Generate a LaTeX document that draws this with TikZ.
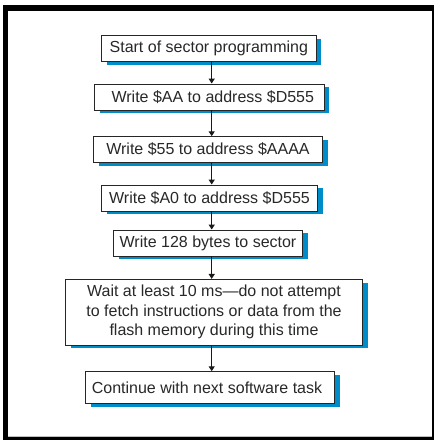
\documentclass[tikz,border=0pt]{standalone}
\usepackage{fontspec}
\setmainfont{Liberation Sans}
\usetikzlibrary{shadows,arrows.meta}
\definecolor{shadowblue}{RGB}{0,140,200}
\definecolor{textgray}{RGB}{40,40,40}
\tikzset{
  flowbox/.style={draw=black!85, line width=0.9pt, fill=white, inner sep=0pt,
    font=\fontsize{16}{19.5}\selectfont, text=textgray, align=center,
    drop shadow={shadow xshift=5.5pt, shadow yshift=-3.3pt, fill=shadowblue, opacity=1}},
  flowarrow/.style={line width=1.5pt, draw=black!90, -{Triangle[length=5pt,width=6pt]}}
}
\begin{document}
\begin{tikzpicture}[x=1pt,y=-1pt]
\useasboundingbox (0,0) rectangle (434,440);
% frame
\fill[black] (3,5) rectangle (434,440);
\fill[white] (8,11) rectangle (431.5,437);
\draw[black!25, line width=0.6pt] (8,436.7) -- (431.5,436.7);
% nodes
\node[flowbox, minimum width=214.3pt, minimum height=26pt] (b1) at (208.8,48.7) {Start of sector programming};
\node[flowbox, minimum width=229.3pt, minimum height=26pt] (b2) at (209.3,97) {\hspace*{7pt}Write \$AA to address \$D555};
\node[flowbox, minimum width=229.4pt, minimum height=25.6pt] (b3) at (208,149.5) {Write \$55 to address \$AAAA};
\node[flowbox, minimum width=215.6pt, minimum height=26pt] (b4) at (209.5,198) {Write \$A0 to address \$D555};
\node[flowbox, minimum width=189.4pt, minimum height=26pt] (b5) at (208,243) {Write 128 bytes to sector};
\node[flowbox, minimum width=296.6pt, minimum height=65.7pt] (b6) at (214,312.2) {Wait at least 10 ms---do not attempt\\to fetch instructions or data from the\\flash memory during this time};
\node[flowbox, minimum width=248.6pt, minimum height=31.6pt] (b7) at (210,387.5) {Continue with next software task\hspace*{6pt}};
% arrows
\coordinate (ax) at (211.7,0);
\draw[flowarrow] (b1.south -| ax) -- (b2.north -| ax);
\draw[flowarrow] (b2.south -| ax) -- (b3.north -| ax);
\draw[flowarrow] (b3.south -| ax) -- (b4.north -| ax);
\draw[flowarrow] (b4.south -| ax) -- (b5.north -| ax);
\draw[flowarrow] (b5.south -| ax) -- (b6.north -| ax);
\draw[flowarrow] (b6.south -| ax) -- (b7.north -| ax);
\end{tikzpicture}
\end{document}
